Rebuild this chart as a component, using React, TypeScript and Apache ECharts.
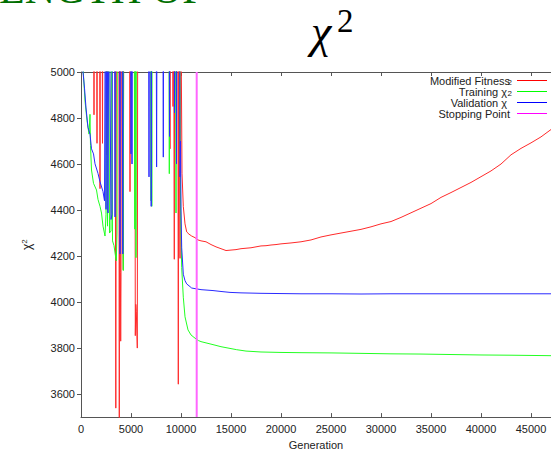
import React, { useEffect, useRef } from 'react';
import * as echarts from 'echarts';

// ---------- data ----------
const xTickValues = [0, 5000, 10000, 15000, 20000, 25000, 30000, 35000, 40000, 45000];
const yTickValues = [3600, 3800, 4000, 4200, 4400, 4600, 4800, 5000];
const stoppingGeneration = 11570;

const modifiedFitness: [number, number][] = [
  [0, 5600], [1250, 5600], [1300, 4814], [1350, 5600], [1550, 5600], [1600, 4690], [1650, 5600],
  [1850, 5600], [1900, 4493], [1950, 5600], [2100, 5600], [2150, 4690], [2200, 5600], [2550, 5600],
  [2600, 4640], [2650, 5600], [3400, 5600], [3480, 3539], [3560, 5600], [3780, 5600], [3830, 3450],
  [3880, 5600], [3940, 4130], [3970, 3830], [4000, 4100], [4050, 5600], [4180, 5600], [4230, 4140],
  [4280, 5600], [4850, 5600], [4900, 4480], [4950, 5600], [5380, 5600], [5430, 3854], [5480, 3990],
  [5530, 3960], [5630, 3800], [5680, 5600], [8850, 5600], [8900, 4666], [8950, 5600], [9150, 5600],
  [9200, 4850], [9250, 5600], [9280, 5600], [9330, 4186], [9380, 5600], [9500, 5600], [9550, 4700],
  [9600, 5600], [9680, 5600], [9730, 3643], [9780, 5600], [9850, 5600], [9900, 4190], [9950, 5600],
  [10020, 5100], [10100, 4560], [10230, 4416], [10400, 4340], [10570, 4305], [10800, 4295],
  [11070, 4287], [11400, 4280], [11700, 4270], [12000, 4266], [12500, 4262], [13000, 4250],
  [13500, 4240], [14000, 4232], [14500, 4224], [15000, 4226], [15500, 4228], [16000, 4232],
  [16500, 4234], [17000, 4236], [17500, 4240], [18000, 4244], [18500, 4245], [19000, 4248],
  [19500, 4250], [20000, 4253], [21000, 4257], [22000, 4262], [23000, 4270], [24000, 4283],
  [25000, 4292], [26000, 4300], [27000, 4308], [28000, 4316], [29000, 4327], [30000, 4340],
  [31000, 4350], [32000, 4368], [33000, 4388], [34000, 4408], [35000, 4428], [36000, 4455],
  [37000, 4476], [38000, 4498], [39000, 4520], [40000, 4545], [41000, 4570], [42000, 4600],
  [43000, 4640], [44000, 4668], [45000, 4692], [46000, 4718], [47000, 4750],
];

const trainingChi2: [number, number][] = [
  [0, 5150], [230, 5000], [400, 4874], [600, 4789], [800, 4730], [900, 4816], [950, 4680],
  [1050, 4574], [1250, 4516], [1550, 4487], [1700, 4446], [1900, 4416], [2050, 4387], [2200, 4330],
  [2400, 4287], [2500, 4380], [2550, 5600], [2650, 4330], [2750, 5600], [2850, 4300], [3000, 4309],
  [3050, 5600], [3150, 4266], [3300, 4245], [3450, 4200], [3530, 4179], [3600, 4300], [3650, 5600],
  [4150, 5600], [4200, 4237], [4230, 4137], [4280, 5600], [5300, 5600], [5380, 4317], [5450, 5600],
  [5480, 5600], [5500, 4193], [5550, 5600], [6950, 5600], [7000, 4440], [7050, 5600], [7080, 4416],
  [7120, 5600], [8780, 5600], [8830, 4558], [8880, 5600], [9450, 5600], [9500, 4387], [9550, 5600],
  [9850, 5600], [9920, 4600], [10000, 4300], [10070, 4150], [10230, 4021], [10400, 3936],
  [10700, 3879], [11000, 3857], [11400, 3843], [11730, 3833], [12000, 3828], [13200, 3815],
  [14000, 3806], [15570, 3793], [16500, 3787], [18000, 3783], [20000, 3781], [22000, 3780],
  [25000, 3779], [28000, 3777], [31000, 3775], [34000, 3774], [37000, 3772], [40000, 3770],
  [43000, 3769], [47000, 3767],
];

const validationChi2: [number, number][] = [
  [0, 5150], [200, 5000], [350, 4930], [500, 4844], [700, 4759], [900, 4730], [1050, 4666],
  [1250, 4644], [1400, 4601], [1700, 4559], [1900, 4523], [2200, 4480], [2350, 4440], [2450, 5600],
  [2500, 4403], [2600, 5600], [2700, 4387], [2800, 5600], [3000, 4359], [3100, 4380], [3150, 5600],
  [3350, 5600], [3400, 4370], [3450, 5600], [3850, 5600], [3900, 4209], [3950, 5600], [4100, 5600],
  [4180, 4209], [4230, 5600], [4950, 5600], [5000, 4644], [5050, 5600], [5100, 4600], [5150, 5600],
  [6750, 5600], [6800, 4544], [6850, 5600], [6980, 5600], [7020, 4416], [7080, 5600], [7500, 5600],
  [7560, 4587], [7620, 5600], [8180, 5600], [8230, 4630], [8280, 5600], [8800, 5600], [8850, 4720],
  [8900, 5600], [9300, 5600], [9350, 4823], [9400, 5600], [9500, 5600], [9550, 4600], [9600, 5600],
  [9850, 5600], [9900, 4544], [9950, 4700], [10000, 4400], [10070, 4236], [10230, 4121],
  [10400, 4093], [10570, 4079], [11070, 4061], [12000, 4054], [13200, 4050], [14000, 4046],
  [14900, 4042], [16000, 4040], [18000, 4038], [19900, 4037], [22000, 4036], [25000, 4036],
  [28000, 4035], [31000, 4036], [35000, 4036], [40000, 4036], [47000, 4036],
];

const seriesNames = ['Modified Fitness', 'Training χ', 'Validation χ', 'Stopping Point'];
const seriesSuperscripts = ['', '2', '2', ''];
const xAxisName = 'Generation';
const titleFragment = 'ENGTH OF';

// ---------- styles ----------
const palette = ['#ff0000', '#00ff00', '#0000ff', '#ff00ff'];
const seriesColors = ['#ff2a2a', '#22ff22', '#2a2aff'];
const stopLineColor = '#ff66ff';
const axisColor = '#555555';
const textColor = '#222222';
const sans = 'Liberation Sans';
const serif = 'Liberation Serif';

export default function App() {
  const ref = useRef<HTMLDivElement>(null);

  useEffect(() => {
    if (!ref.current) return;
    const chart = echarts.init(ref.current, undefined, { renderer: 'svg' });

    const legendGraphics: any[] = [];
    seriesNames.forEach((name, i) => {
      const yc = 80.5 + 11 * i;
      const hasSup = seriesSuperscripts[i] !== '';
      legendGraphics.push({
        type: 'text',
        x: hasSup ? 507 : 510,
        y: yc,
        style: {
          text: name,
          fontSize: 11,
          fontFamily: sans,
          fill: textColor,
          align: 'right',
          verticalAlign: 'middle',
        },
      });
      if (hasSup) {
        legendGraphics.push({
          type: 'text',
          x: 507.5,
          y: yc - 9,
          style: {
            text: seriesSuperscripts[i],
            fontSize: 8,
            fontFamily: sans,
            fill: textColor,
            align: 'left',
            verticalAlign: 'middle',
          },
        });
      }
      legendGraphics.push({
        type: 'line',
        shape: { x1: 517, y1: yc, x2: 547, y2: yc },
        style: { stroke: palette[i], lineWidth: 1 },
      });
    });

    const lineSeries = (name: string, data: [number, number][], color: string) => ({
      name,
      type: 'line',
      data,
      showSymbol: false,
      symbol: 'none',
      clip: true,
      lineStyle: { color, width: 1 },
      itemStyle: { color },
      emphasis: { disabled: true },
    });

    const plain = (v: number) => String(v);

    const option: any = {
      animation: false,
      backgroundColor: '#ffffff',
      grid: { left: 81, right: 0, top: 72, bottom: 33 },
      legend: { show: false },
      xAxis: [
        {
          type: 'value',
          min: 0,
          max: 47000,
          position: 'bottom',
          axisLine: { show: true, onZero: false, lineStyle: { color: axisColor, width: 1 } },
          axisTick: { show: true, inside: true, length: 4, customValues: xTickValues, lineStyle: { color: axisColor } },
          axisLabel: { customValues: xTickValues, formatter: plain, fontSize: 11, fontFamily: sans, color: textColor, margin: 6 },
          splitLine: { show: false },
          name: xAxisName,
          nameLocation: 'middle',
          nameGap: 21,
          nameTextStyle: { fontSize: 11, fontFamily: sans, color: textColor },
        },
        {
          type: 'value',
          min: 0,
          max: 47000,
          position: 'top',
          axisLine: { show: true, onZero: false, lineStyle: { color: axisColor, width: 1 } },
          axisTick: { show: true, inside: true, length: 4, customValues: xTickValues, lineStyle: { color: axisColor } },
          axisLabel: { show: false },
          splitLine: { show: false },
        },
      ],
      yAxis: {
        type: 'value',
        min: 3500,
        max: 5000,
        axisLine: { show: true, onZero: false, lineStyle: { color: axisColor, width: 1 } },
        axisTick: { show: true, inside: false, length: 4, customValues: yTickValues, lineStyle: { color: axisColor } },
        axisLabel: { customValues: yTickValues, formatter: plain, fontSize: 11, fontFamily: sans, color: textColor, margin: 6 },
        splitLine: { show: false },
        name: '{c|χ}{s|2}',
        nameLocation: 'middle',
        nameRotate: 90,
        nameGap: 47,
        nameTextStyle: {
          fontSize: 12,
          fontFamily: sans,
          color: textColor,
          rich: {
            c: { fontSize: 12, fontFamily: sans, color: textColor, lineHeight: 14 },
            s: { fontSize: 8, fontFamily: sans, color: textColor, lineHeight: 6, verticalAlign: 'top' },
          },
        },
      },
      graphic: [
        {
          type: 'text',
          x: -1,
          y: -11,
          style: {
            text: titleFragment,
            fontSize: 42,
            fontFamily: serif,
            fill: '#006e00',
            align: 'left',
            verticalAlign: 'middle',
          },
        },
        {
          type: 'text',
          x: 311,
          y: 31.5,
          style: {
            text: 'χ',
            fontSize: 46,
            fontStyle: 'italic',
            fontFamily: serif,
            fill: '#000000',
            align: 'left',
            verticalAlign: 'middle',
          },
        },
        {
          type: 'text',
          x: 337,
          y: 21,
          style: {
            text: '2',
            fontSize: 33,
            fontFamily: serif,
            fill: '#000000',
            align: 'left',
            verticalAlign: 'middle',
          },
        },
        ...legendGraphics,
      ],
      series: [
        lineSeries(seriesNames[0], modifiedFitness, seriesColors[0]),
        lineSeries(seriesNames[1] + '2', trainingChi2, seriesColors[1]),
        lineSeries(seriesNames[2] + '2', validationChi2, seriesColors[2]),
        {
          name: seriesNames[3],
          type: 'line',
          data: [
            [stoppingGeneration, 3500],
            [stoppingGeneration, 5000],
          ],
          showSymbol: false,
          symbol: 'none',
          lineStyle: { color: stopLineColor, width: 2 },
          emphasis: { disabled: true },
        },
      ],
    };

    chart.setOption(option);
    return () => chart.dispose();
  }, []);

  return (
    <div
      ref={ref}
      style={{ position: 'absolute', left: 0, top: 0, width: 551, height: 455, background: '#fff' }}
    />
  );
}
